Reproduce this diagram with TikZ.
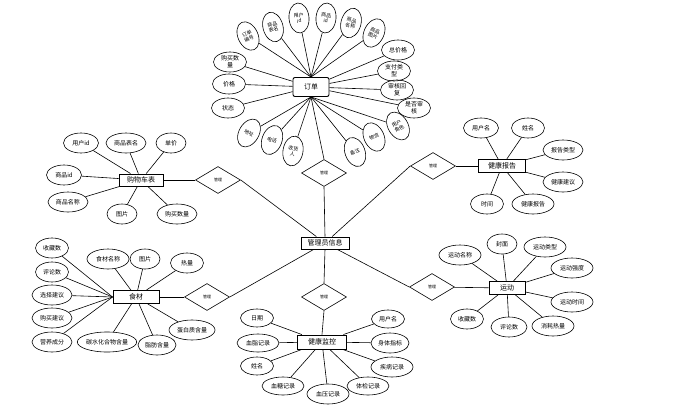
\documentclass[tikz,border=0pt]{standalone}
\usepackage{fontspec}
\setmainfont{Noto Sans CJK SC}
\usetikzlibrary{shapes.geometric}
\begin{document}
\begin{tikzpicture}[x=1pt, y=-1pt,
    attr/.style={draw, line width=0.6pt, ellipse, inner sep=0pt, minimum width=33pt, minimum height=20pt, font=\fontsize{6}{7}\selectfont},
    vattr/.style={attr, align=center, minimum width=20pt, minimum height=30pt, font=\fontsize{5}{5.5}\selectfont},
    entity/.style={draw, line width=0.9pt, inner sep=0pt, minimum height=13pt, font=\fontsize{7}{8}\selectfont},
    rel/.style={draw, line width=0.6pt, diamond, inner sep=0pt, minimum width=45pt, minimum height=27pt, font=\fontsize{4}{4}\selectfont},
    link/.style={line width=0.6pt}]
    \useasboundingbox (0,0) rectangle (673,410);

    \node[entity, minimum width=48pt, minimum height=12pt] (admin) at (325,243) {管理员信息};

    \node[rel] (rorder) at (324,173) {管理};
    \node[rel] (rcart) at (218,180) {管理};
    \node[rel] (rreport) at (433,166) {管理};
    \node[rel] (rfood) at (207,297) {管理};
    \node[rel] (rsport) at (432,287) {管理};
    \node[rel] (rmonitor) at (324,297) {管理};

    \node[entity, rounded corners=2pt, minimum width=36pt, minimum height=19pt] (order) at (311,87) {订单};
    \node[entity, minimum width=44pt, minimum height=12pt] (cart) at (141,180) {购物车表};
    \node[entity, minimum width=47pt] (report) at (502,166) {健康报告};
    \node[entity, minimum width=46pt] (food) at (136,297) {食材};
    \node[entity, minimum width=36pt] (sport) at (507,288) {运动};
    \node[entity, minimum width=49pt, minimum height=14pt] (monitor) at (322,342) {健康监控};

    % 订单
    \node[vattr, rotate=25] (ono) at (248,36) {订单\\编号};
    \node[vattr, rotate=15] (otable) at (273,27) {商品\\表名};
    \node[vattr, rotate=5] (ouid) at (299,18) {用户\\id};
    \node[vattr, rotate=-5] (ogid) at (326,18) {商品\\id};
    \node[vattr, rotate=-15] (ogname) at (351,23) {商品\\名称};
    \node[vattr, rotate=-25] (ogpic) at (374,33) {商品\\图片};
    \node[attr] (ototal) at (398,50) {总价格};
    \node[attr, align=center] (opay) at (394,71) {支付类\\型};
    \node[attr, align=center] (oreply) at (397,90) {审核回\\复};
    \node[attr, align=center] (ocheck) at (414,108) {是否审\\核};
    \node[vattr, rotate=30] (orole) at (398,126) {用户\\角色};
    \node[vattr, rotate=25] (oship) at (374,137) {物流};
    \node[vattr, rotate=20] (onote) at (355,152) {备注};
    \node[vattr, rotate=-10] (oname) at (293,151) {收货\\人};
    \node[vattr, rotate=-20] (otel) at (272,140) {电话};
    \node[vattr, rotate=-30] (oaddr) at (249,133) {地址};
    \node[attr] (ostate) at (228,108) {状态};
    \node[attr] (oprice) at (229,84) {价格};
    \node[attr, align=center] (onum) at (230,62) {购买数\\量};

    % 购物车表
    \node[attr, minimum width=35pt] (cuid) at (81,143) {用户id};
    \node[attr, minimum width=40pt] (ctable) at (126,143) {商品表名};
    \node[attr, minimum width=30pt] (cprice) at (171,143) {单价};
    \node[attr, minimum width=35pt] (cgid) at (64,175) {商品id};
    \node[attr, minimum width=40pt] (cgname) at (68,202) {商品名称};
    \node[attr, minimum width=30pt] (cpic) at (122,214) {图片};
    \node[attr, minimum width=40pt] (cnum) at (177,214) {购买数量};

    % 健康报告
    \node[attr, minimum width=35pt] (ruser) at (481,128) {用户名};
    \node[attr] (rname) at (528,128) {姓名};
    \node[attr, minimum width=40pt] (rtype) at (563,150) {报告类型};
    \node[attr, minimum width=40pt] (radvice) at (563,182) {健康建议};
    \node[attr] (rtime) at (487,204) {时间};
    \node[attr, minimum width=42pt] (rtext) at (533,204) {健康报告};

    % 食材
    \node[attr] (ffav) at (52,248) {收藏数};
    \node[attr] (fcomm) at (52,272) {评论数};
    \node[attr, minimum width=40pt] (fchoose) at (52,295) {选择建议};
    \node[attr, minimum width=40pt] (fbuy) at (52,318) {购买建议};
    \node[attr, minimum width=40pt] (fnutri) at (52,342) {营养成分};
    \node[attr, minimum width=42pt] (fname) at (108,259) {食材名称};
    \node[attr, minimum width=30pt] (fpic) at (145,259) {图片};
    \node[attr] (fheat) at (187,263) {热量};
    \node[attr, minimum width=46pt] (fprot) at (192,330) {蛋白质含量};
    \node[attr, minimum width=38pt] (ffat) at (157,345) {脂肪含量};
    \node[attr, minimum width=57pt] (fcarb) at (107,342) {碳水化合物含量};

    % 运动
    \node[attr, minimum width=42pt] (sname) at (460,255) {运动名称};
    \node[attr, minimum width=30pt] (scover) at (502,244) {封面};
    \node[attr, minimum width=42pt] (stype) at (545,247) {运动类型};
    \node[attr, minimum width=42pt] (slevel) at (572,268) {运动强度};
    \node[attr, minimum width=42pt] (stime) at (572,302) {运动时间};
    \node[attr, minimum width=42pt] (sheat) at (553,326) {消耗热量};
    \node[attr, minimum width=36pt] (scomm) at (509,327) {评论数};
    \node[attr] (sfav) at (467,319) {收藏数};

    % 健康监控
    \node[attr, minimum height=18pt] (mdate) at (257,318) {日期};
    \node[attr, minimum width=42pt, minimum height=18pt] (mfat) at (258,343) {血脂记录};
    \node[attr, minimum height=18pt] (mname) at (257,366) {姓名};
    \node[attr, minimum width=42pt, minimum height=18pt] (msugar) at (283,386) {血糖记录};
    \node[attr, minimum width=42pt] (mpress) at (328,394) {血压记录};
    \node[attr, minimum width=42pt, minimum height=18pt] (mexam) at (368,386) {体检记录};
    \node[attr, minimum width=42pt] (mill) at (392,367) {疾病记录};
    \node[attr, minimum width=38pt] (mbody) at (390,343) {身体指标};
    \node[attr, minimum height=18pt] (muser) at (388,319) {用户名};

    % 关系
    \draw[link] (rorder.south) -- (admin.north);
    \draw[link] (rmonitor.north) -- (admin.south);
    \draw[link] (rcart.east) -- (admin);
    \draw[link] (rfood.east) -- (admin);
    \draw[link] (rreport.west) -- (admin);
    \draw[link] (rsport.west) -- (admin);
    \draw[link] (order.south) -- (rorder.north);
    \draw[link] (cart) -- (rcart);
    \draw[link] (report) -- (rreport);
    \draw[link] (food) -- (rfood);
    \draw[link] (sport) -- (rsport);
    \draw[link] (monitor.north) -- (rmonitor.south);

    \draw[link] (ono) -- (order.north);
    \draw[link] (otable) -- (order.north);
    \draw[link] (ouid) -- (order.north);
    \draw[link] (ogid) -- (order.north);
    \draw[link] (ogname) -- (order.north);
    \draw[link] (ogpic) -- (order.north);
    \draw[link] (ototal) -- (order);
    \draw[link] (opay) -- (order);
    \draw[link] (oreply) -- (order);
    \draw[link] (ocheck) -- (order);
    \draw[link] (orole) -- (order.south);
    \draw[link] (oship) -- (order.south);
    \draw[link] (onote) -- (order.south);
    \draw[link] (oname) -- (order.south);
    \draw[link] (otel) -- (order.south);
    \draw[link] (oaddr) -- (order.south);
    \draw[link] (ostate) -- (order);
    \draw[link] (oprice) -- (order);
    \draw[link] (onum) -- (order);

    \draw[link] (cuid) -- (cart);
    \draw[link] (ctable) -- (cart);
    \draw[link] (cprice) -- (cart);
    \draw[link] (cgid) -- (cart);
    \draw[link] (cgname) -- (cart);
    \draw[link] (cpic) -- (cart);
    \draw[link] (cnum) -- (cart);

    \draw[link] (ruser) -- (report);
    \draw[link] (rname) -- (report);
    \draw[link] (rtype) -- (report);
    \draw[link] (radvice) -- (report);
    \draw[link] (rtime) -- (report);
    \draw[link] (rtext) -- (report);

    \draw[link] (ffav) -- (food.west);
    \draw[link] (fcomm) -- (food.west);
    \draw[link] (fchoose) -- (food.west);
    \draw[link] (fbuy) -- (food.west);
    \draw[link] (fnutri) -- (food.west);
    \draw[link] (fname) -- (food);
    \draw[link] (fpic) -- (food);
    \draw[link] (fheat) -- (food);
    \draw[link] (fprot) -- (food);
    \draw[link] (ffat) -- (food);
    \draw[link] (fcarb) -- (food);

    \draw[link] (sname) -- (sport);
    \draw[link] (scover) -- (sport);
    \draw[link] (stype) -- (sport);
    \draw[link] (slevel) -- (sport);
    \draw[link] (stime) -- (sport);
    \draw[link] (sheat) -- (sport);
    \draw[link] (scomm) -- (sport);
    \draw[link] (sfav) -- (sport);

    \draw[link] (mdate) -- (monitor);
    \draw[link] (mfat) -- (monitor);
    \draw[link] (mname) -- (monitor);
    \draw[link] (msugar) -- (monitor);
    \draw[link] (mpress) -- (monitor);
    \draw[link] (mexam) -- (monitor);
    \draw[link] (mill) -- (monitor);
    \draw[link] (mbody) -- (monitor);
    \draw[link] (muser) -- (monitor);
\end{tikzpicture}
\end{document}
